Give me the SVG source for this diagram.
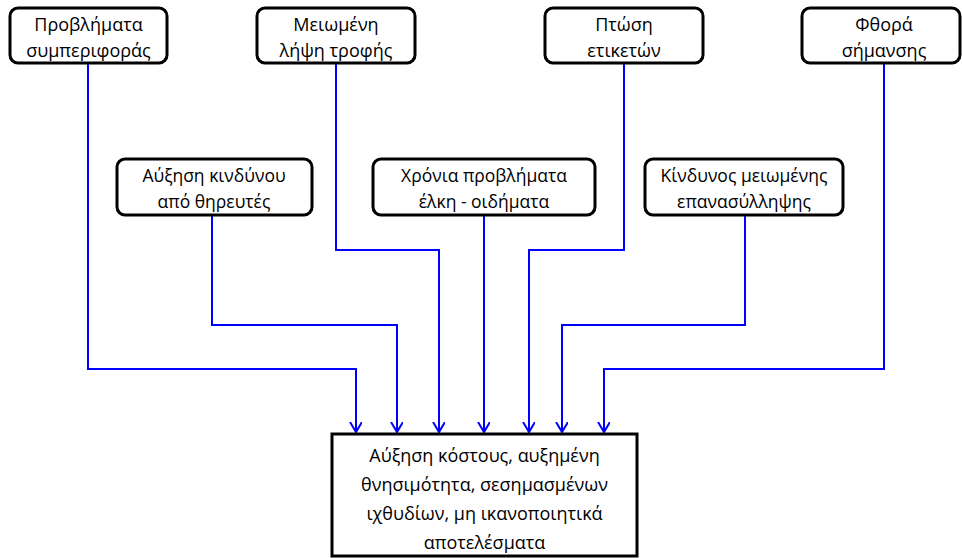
<svg xmlns="http://www.w3.org/2000/svg" width="962" height="558" viewBox="0 0 962 558">
<defs>
<style>
.box{fill:#fff;stroke:#000;stroke-width:3}
.t{font-family:"Open Sans","Liberation Sans",sans-serif;font-size:18px;fill:#000;text-anchor:middle}
.tm{font-family:"Open Sans","Liberation Sans",sans-serif;font-size:17.5px;fill:#000;text-anchor:middle}
.tb{font-family:"Open Sans","Liberation Sans",sans-serif;font-size:18px;fill:#000;text-anchor:middle}
.c{fill:none;stroke:#0000ff;stroke-width:2;marker-end:url(#ah)}
</style>
<marker id="ah" markerWidth="14" markerHeight="14" refX="10" refY="6" orient="auto" markerUnits="userSpaceOnUse">
<path d="M0,0 L10,6 L0,12" fill="none" stroke="#0000ff" stroke-width="2"/>
</marker>
</defs>
<rect width="962" height="558" fill="#fff"/>
<g id="connectors">
<path class="c" d="M88,64 V369 H356 V432"/>
<path class="c" d="M212,216 V325 H397 V432"/>
<path class="c" d="M336,64 V250 H439 V432"/>
<path class="c" d="M484,216 V432"/>
<path class="c" d="M624,64 V250 H529 V432"/>
<path class="c" d="M745,216 V325 H562 V432"/>
<path class="c" d="M884,64 V369 H604 V432"/>
</g>
<g id="n1"><rect class="box" x="10" y="8" width="157" height="55" rx="8"/><text class="t" x="88.5" y="31">Προβλήματα</text><text class="t" x="88.5" y="57">συμπεριφοράς</text></g>
<g id="n2"><rect class="box" x="257" y="8" width="158" height="55" rx="8"/><text class="t" x="336" y="31">Μειωμένη</text><text class="t" x="336" y="57">λήψη τροφής</text></g>
<g id="n3"><rect class="box" x="545" y="8" width="158" height="55" rx="8"/><text class="t" x="624" y="31">Πτώση</text><text class="t" x="624" y="57">ετικετών</text></g>
<g id="n4"><rect class="box" x="802" y="8" width="158" height="55" rx="8"/><text class="t" x="884" y="31">Φθορά</text><text class="t" x="884" y="57">σήμανσης</text></g>
<g id="n5"><rect class="box" x="117" y="159" width="195" height="56" rx="8"/><text class="tm" x="214" y="182">Αύξηση κινδύνου</text><text class="tm" x="214" y="208">από θηρευτές</text></g>
<g id="n6"><rect class="box" x="373" y="159" width="222" height="56" rx="8"/><text class="tm" x="484" y="182">Χρόνια προβλήματα</text><text class="tm" x="484" y="208">έλκη - οιδήματα</text></g>
<g id="n7"><rect class="box" x="645" y="159" width="198" height="56" rx="8"/><text class="tm" x="744" y="182">Κίνδυνος μειωμένης</text><text class="tm" x="744" y="208">επανασύλληψης</text></g>
<g id="n8"><rect class="box" x="332" y="434" width="305" height="122"/>
<text class="tb" x="484.5" y="462">Αύξηση κόστους, αυξημένη</text>
<text class="tb" x="484.5" y="491">θνησιμότητα, σεσημασμένων</text>
<text class="tb" x="484.5" y="520">ιχθυδίων, μη ικανοποιητικά</text>
<text class="tb" x="484.5" y="549">αποτελέσματα</text></g>
</svg>
